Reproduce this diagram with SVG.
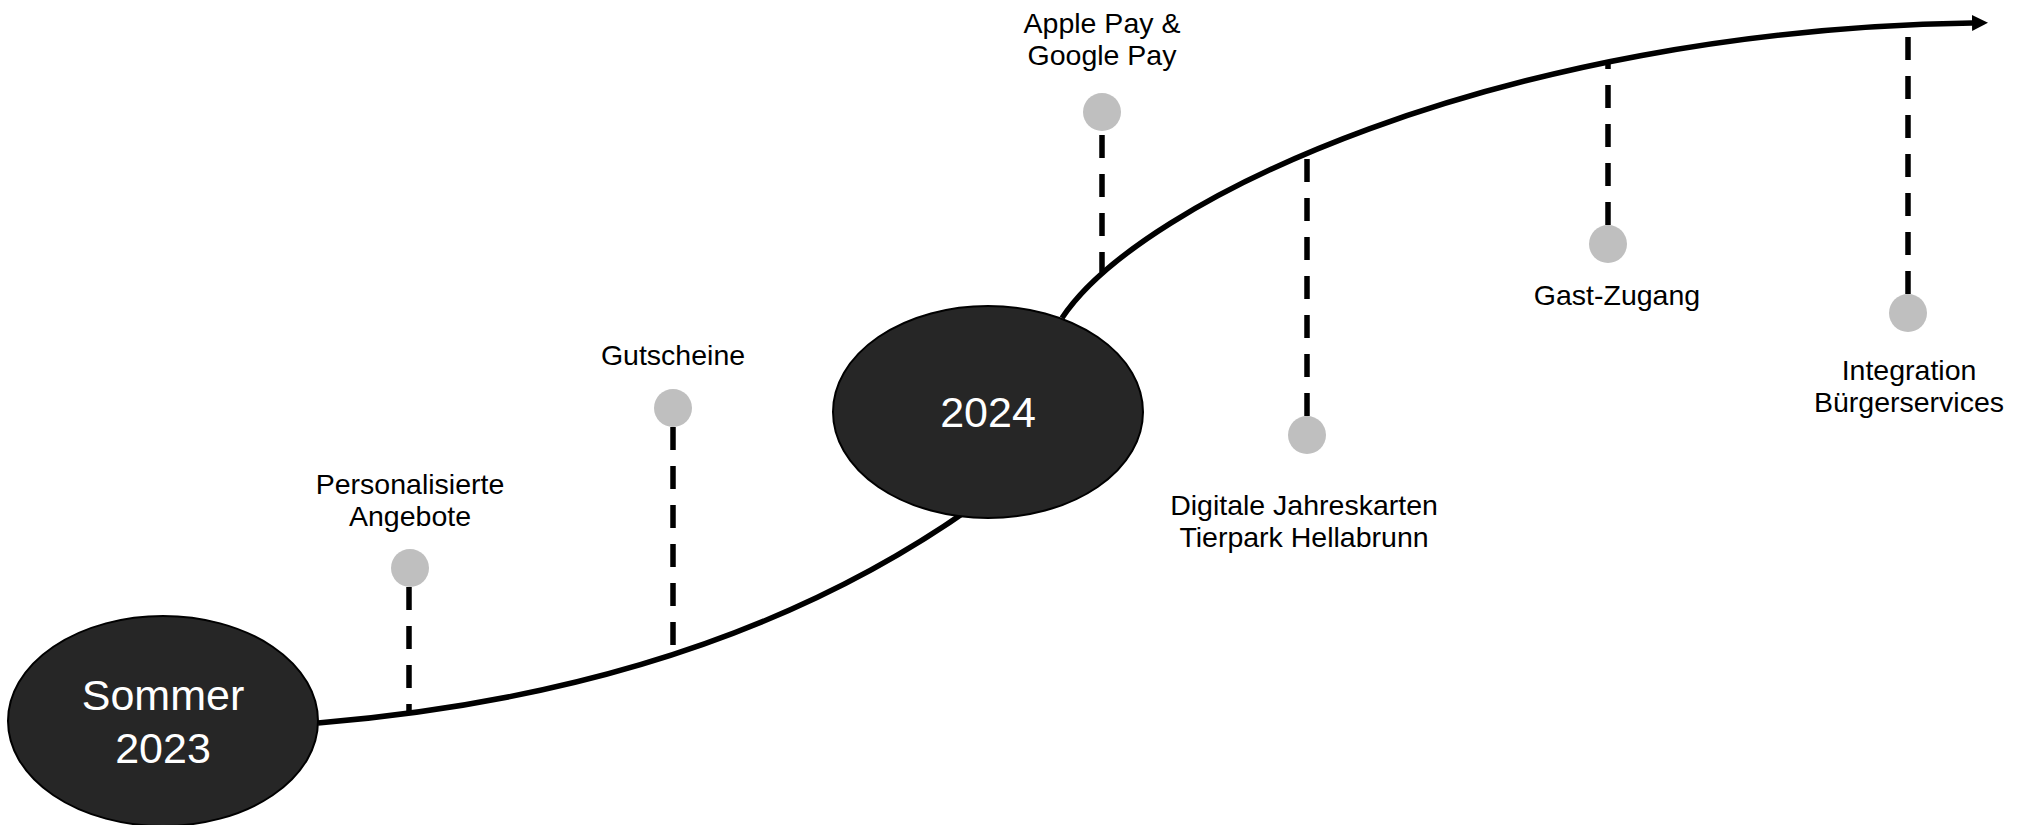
<svg xmlns="http://www.w3.org/2000/svg" width="2038" height="825" viewBox="0 0 2038 825">
  <defs>
    <style>
      .curve { fill: none; stroke: #000; stroke-width: 5.5; }
      .dash { fill: none; stroke: #000; stroke-width: 5.5; stroke-dasharray: 23 16; }
      .year { fill: #262626; stroke: #000; stroke-width: 2; }
      .yeartext { font-family: "Liberation Sans", Arial, sans-serif; font-size: 43px; fill: #fff; text-anchor: middle; }
      .dot { fill: #bfbfbf; }
      .label { font-family: "Liberation Sans", Arial, sans-serif; font-size: 28.5px; fill: #000; text-anchor: middle; }
    </style>
    <marker id="arrow" markerUnits="userSpaceOnUse" markerWidth="18" markerHeight="18" refX="0" refY="8" orient="auto" viewBox="0 0 18 16">
      <path d="M0,0 L16,8 L0,16 Z" fill="#000"/>
    </marker>
  </defs>
  <rect width="2038" height="825" fill="#fff"/>

  <g id="connectors">
    <path class="curve" d="M318,723 Q715,690 975,505"/>
    <path class="curve" d="M1062,318 C1140,200 1500,30 1972,23" marker-end="url(#arrow)"/>
    <line class="dash" x1="409" y1="587" x2="409" y2="715"/>
    <line class="dash" x1="673" y1="427" x2="673" y2="648"/>
    <line class="dash" x1="1102" y1="135" x2="1102" y2="272"/>
    <line class="dash" x1="1307" y1="416" x2="1307" y2="150"/>
    <line class="dash" x1="1608" y1="225" x2="1608" y2="63"/>
    <line class="dash" x1="1908" y1="294" x2="1908" y2="28"/>
  </g>

  <g id="node-sommer-2023">
    <ellipse class="year" cx="163" cy="721" rx="155" ry="105"/>
    <text class="yeartext" x="163" y="710">Sommer</text>
    <text class="yeartext" x="163" y="763">2023</text>
  </g>

  <g id="node-2024">
    <ellipse class="year" cx="988" cy="412" rx="155" ry="106"/>
    <text class="yeartext" x="988" y="427">2024</text>
  </g>

  <g id="node-personalisierte-angebote">
    <circle class="dot" cx="410" cy="568" r="19"/>
    <text class="label" x="410" y="494">Personalisierte</text>
    <text class="label" x="410" y="526">Angebote</text>
  </g>

  <g id="node-gutscheine">
    <circle class="dot" cx="673" cy="408" r="19"/>
    <text class="label" x="673" y="365">Gutscheine</text>
  </g>

  <g id="node-apple-google-pay">
    <circle class="dot" cx="1102" cy="112" r="19"/>
    <text class="label" x="1102" y="33">Apple Pay &amp;</text>
    <text class="label" x="1102" y="65">Google Pay</text>
  </g>

  <g id="node-digitale-jahreskarten">
    <circle class="dot" cx="1307" cy="435" r="19"/>
    <text class="label" x="1304" y="515">Digitale Jahreskarten</text>
    <text class="label" x="1304" y="547">Tierpark Hellabrunn</text>
  </g>

  <g id="node-gast-zugang">
    <circle class="dot" cx="1608" cy="244" r="19"/>
    <text class="label" x="1617" y="305">Gast-Zugang</text>
  </g>

  <g id="node-integration-buergerservices">
    <circle class="dot" cx="1908" cy="313" r="19"/>
    <text class="label" x="1909" y="380">Integration</text>
    <text class="label" x="1909" y="412">Bürgerservices</text>
  </g>
</svg>
